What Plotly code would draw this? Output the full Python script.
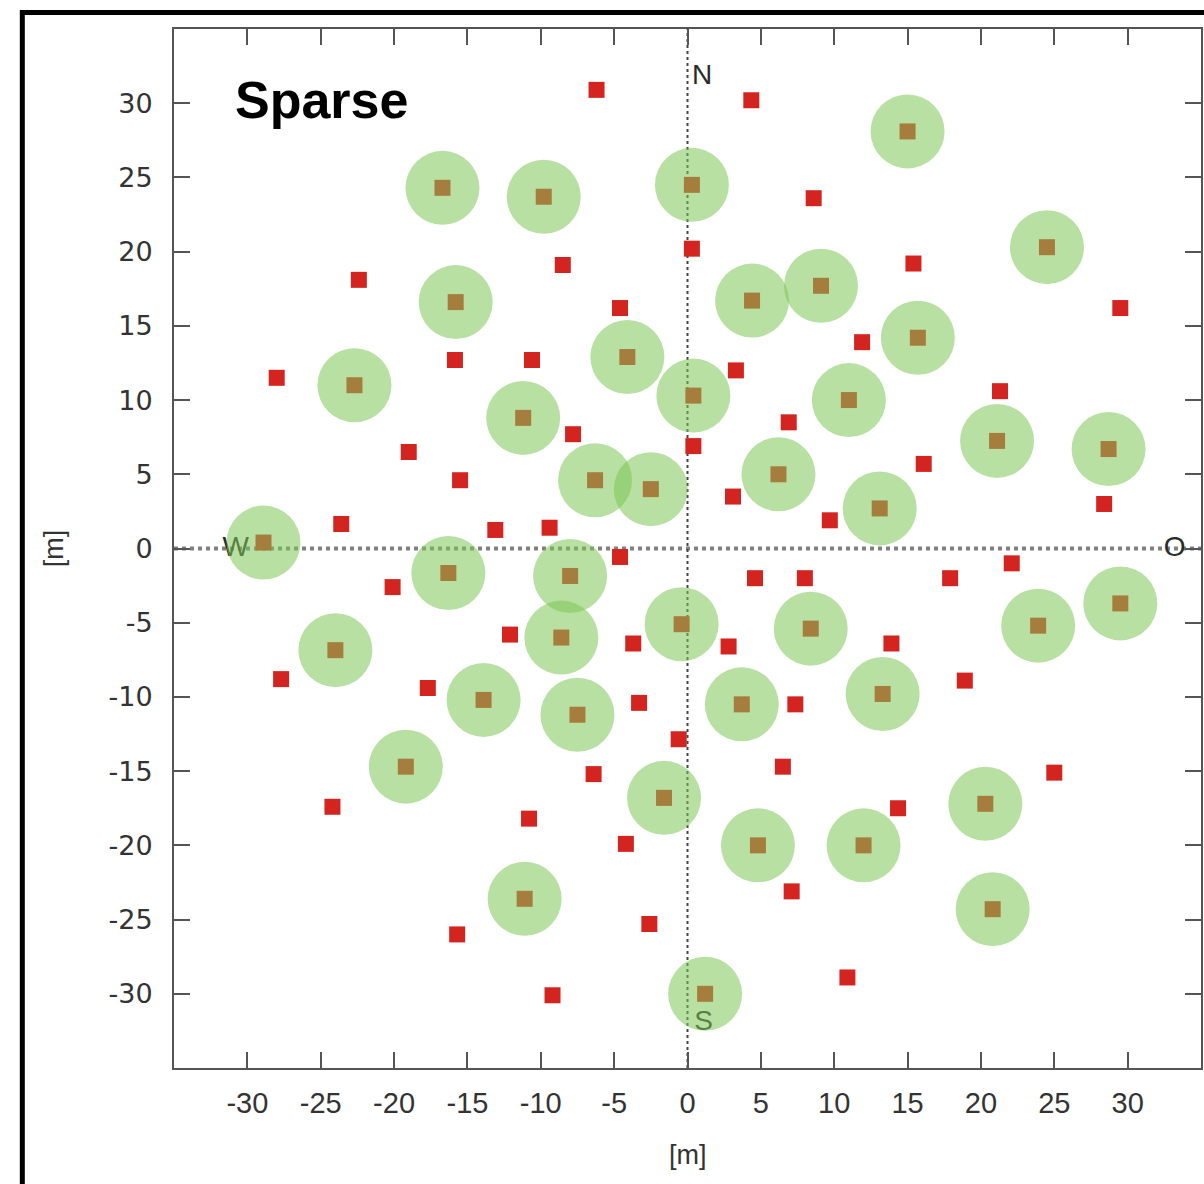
import plotly.graph_objects as go

# Sparse-layout stations (green circles), metres
sparse_x = [15.0, -16.7, -9.8, 0.3, 24.5, -15.8, 4.4, 9.1, 15.7, -4.1, -22.7, 0.4, -11.2, 11.0,
            21.1, 28.7, -6.3, -2.5, 6.2, 13.1, -28.9, -16.3, -8.0, 23.9, 29.5, -24.0, -8.6, -0.4,
            8.4, -13.9, -7.5, 3.7, 13.3, -19.2, -1.6, 4.8, 12.0, 20.3, -11.1, 20.8, 1.2]
sparse_y = [28.1, 24.3, 23.7, 24.5, 20.3, 16.6, 16.7, 17.7, 14.2, 12.9, 11.0, 10.3, 8.8, 10.0,
            7.25, 6.7, 4.6, 4.0, 5.0, 2.7, 0.4, -1.65, -1.85, -5.2, -3.7, -6.85, -6.0, -5.1,
            -5.4, -10.2, -11.2, -10.5, -9.8, -14.7, -16.8, -20.0, -20.0, -17.2, -23.6, -24.3, -30.0]

# Remaining stations (red squares only), metres
other_x = [-6.2, 4.35, 8.6, 0.3, -22.4, -8.5, 15.4, 29.5, -4.6, -15.85, -10.6, 11.9, 3.3, -28.0,
           21.3, 6.9, -7.8, 0.4, -19.0, 16.1, -15.5, 3.1, 28.4, 9.7, -23.6, -13.1, -9.4, -4.6,
           22.1, -20.1, 4.6, 8.0, 17.9, -12.1, -3.7, 2.8, 13.9, -27.7, -17.7, -3.3, 7.35, 18.9,
           -0.6, -6.4, 6.5, 25.0, -24.2, -10.8, 14.35, -4.2, 7.1, -2.6, -15.7, -9.2, 10.9]
other_y = [30.9, 30.2, 23.6, 20.2, 18.1, 19.1, 19.2, 16.2, 16.2, 12.7, 12.7, 13.9, 12.0, 11.5,
           10.6, 8.5, 7.7, 6.9, 6.5, 5.7, 4.6, 3.5, 3.0, 1.9, 1.65, 1.25, 1.4, -0.57,
           -1.0, -2.6, -2.0, -2.0, -2.0, -5.8, -6.4, -6.6, -6.4, -8.8, -9.4, -10.4, -10.5, -8.9,
           -12.85, -15.2, -14.7, -15.1, -17.4, -18.2, -17.5, -19.9, -23.1, -25.3, -26.0, -30.1, -28.9]

compass_text = ["N", "S", "W", "O"]
compass_x = [1.0, 1.1, -30.8, 33.2]
compass_y = [31.8, -32.0, 0.0, 0.0]

tick_vals = [-30, -25, -20, -15, -10, -5, 0, 5, 10, 15, 20, 25, 30]
tick_text = ["-30", "-25", "-20", "-15", "-10", "-5", "0", "5", "10", "15", "20", "25", "30"]

fig = go.Figure()

fig.add_trace(go.Scatter(
    x=compass_x, y=compass_y, mode="text", text=compass_text,
    textfont=dict(family="Liberation Sans, Arial, sans-serif", size=28, color="#2a2a2a"),
    hoverinfo="skip", showlegend=False, cliponaxis=False))

fig.add_trace(go.Scatter(
    x=other_x + sparse_x, y=other_y + sparse_y, mode="markers",
    marker=dict(symbol="square", size=16, color="#d42420", line=dict(width=0)),
    showlegend=False))

fig.add_trace(go.Scatter(
    x=sparse_x, y=sparse_y, mode="markers",
    marker=dict(symbol="circle", size=74, color="rgba(126,199,86,0.55)", line=dict(width=0)),
    showlegend=False))

axis_common = dict(
    range=[-35, 35], tickvals=tick_vals, ticktext=tick_text, ticks="inside", ticklen=16,
    tickwidth=2, tickcolor="#555", showline=True, linecolor="#555", linewidth=2,
    mirror="ticks", showgrid=False, zeroline=False, fixedrange=True,
)

fig.update_xaxes(**axis_common, ticklabelstandoff=8,
                 tickfont=dict(family="Liberation Sans, Arial, sans-serif", size=29, color="#333"))
fig.update_yaxes(**axis_common, ticklabelstandoff=14,
                 tickfont=dict(family="DejaVu Sans, sans-serif", size=27, color="#333"))

fig.update_layout(
    width=1204, height=1184,
    margin=dict(l=174, r=1, t=29, b=116),
    paper_bgcolor="white", plot_bgcolor="white",
    shapes=[
        dict(type="line", xref="x", yref="y", x0=-35, x1=35, y0=0, y1=0,
             line=dict(color="#808080", width=4, dash="dot"), layer="below"),
        dict(type="line", xref="x", yref="y", x0=0, x1=0, y0=-35, y1=35,
             line=dict(color="#444", width=2, dash="dot"), layer="below"),
        dict(type="rect", xref="paper", yref="paper", x0=-0.1477, x1=1.3, y0=-0.3, y1=1.0159,
             line=dict(color="black", width=5), fillcolor="rgba(0,0,0,0)", layer="above"),
    ],
    annotations=[
        dict(text="<b>Sparse</b>", x=-30.95, y=30.25, xref="x", yref="y",
             xanchor="left", yanchor="middle", showarrow=False,
             font=dict(family="Liberation Sans, Arial, sans-serif", size=52, color="black")),
        dict(text="[m]", x=0.5, y=-0.0837, xref="paper", yref="paper",
             xanchor="center", yanchor="middle", showarrow=False,
             font=dict(family="Liberation Sans, Arial, sans-serif", size=27, color="#333")),
        dict(text="[m]", x=-0.117, y=0.5, xref="paper", yref="paper", textangle=-90,
             xanchor="center", yanchor="middle", showarrow=False,
             font=dict(family="Liberation Sans, Arial, sans-serif", size=27, color="#333")),
    ],
)

fig.write_html("out.html")
